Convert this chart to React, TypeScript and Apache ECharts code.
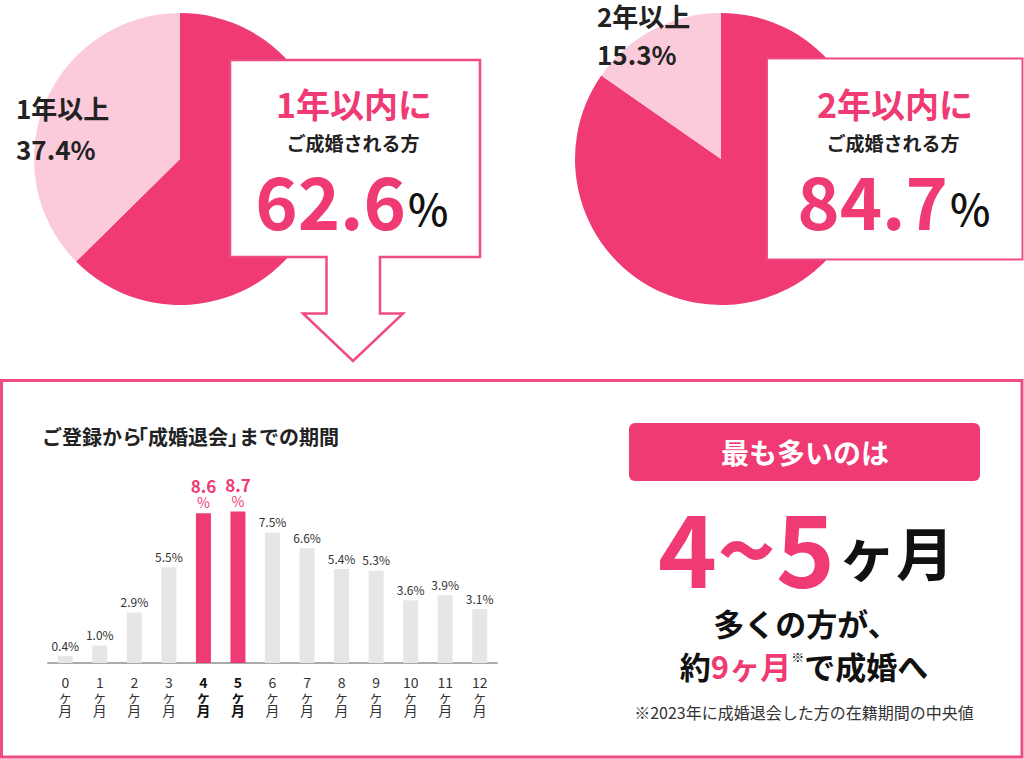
import React, { useEffect, useRef } from 'react';
import * as echarts from 'echarts';

// ---- data ----
const PIE1_LABELS = ['1年以内', '1年以上'];
const PIE1_VALUES = [62.6, 37.4];
const PIE2_LABELS = ['2年以内', '2年以上'];
const PIE2_VALUES = [84.7, 15.3];
const MONTHS = ['0', '1', '2', '3', '4', '5', '6', '7', '8', '9', '10', '11', '12'];
const SHARES = [0.4, 1.0, 2.9, 5.5, 8.6, 8.7, 7.5, 6.6, 5.4, 5.3, 3.6, 3.9, 3.1];
const HIGHLIGHT = [4, 5];
const MEDIAN_MONTHS = '9';

const PINK = '#EF3A74';
const PINK_LINE = '#EF4C81';
const LIGHT_PINK = '#FBCADB';
const GRAY_BAR = '#E6E6E6';
const DARK = '#222222';
const FONT = "'Noto Sans CJK JP', 'Noto Sans', sans-serif";

function txt(text: string, x: number, y: number, size: number, opts: any = {}) {
  return {
    type: 'text',
    x,
    y,
    z: 20,
    silent: true,
    style: {
      text,
      fontSize: size,
      fontFamily: FONT,
      fontWeight: opts.weight || 'bold',
      fill: opts.fill || DARK,
      align: opts.align || 'center',
      verticalAlign: 'middle',
      ...(opts.rich ? { rich: opts.rich } : {}),
    },
  };
}

export default function App() {
  const ref = useRef<HTMLDivElement>(null);
  useEffect(() => {
    if (!ref.current) return;
    const chart = echarts.init(ref.current, undefined, { renderer: 'svg' });

    const pieSeries = (center: number[], labels: string[], values: number[]) => ({
      type: 'pie',
      center,
      radius: 146,
      startAngle: 90,
      clockwise: true,
      silent: true,
      label: { show: false },
      labelLine: { show: false },
      emphasis: { disabled: true },
      itemStyle: { borderWidth: 0 },
      data: labels.map((n, i) => ({
        name: n,
        value: values[i],
        itemStyle: { color: i === 0 ? PINK : LIGHT_PINK },
      })),
    });

    const graphic: any[] = [
      // arrow box 1
      {
        type: 'polygon',
        z: 10,
        silent: true,
        shape: {
          points: [
            [230, 60], [480, 60], [480, 257], [380, 257], [380, 313.5], [403, 313.5],
            [353, 361], [303, 313.5], [326.5, 313.5], [326.5, 257], [230, 257],
          ],
        },
        style: { fill: '#fff', stroke: PINK_LINE, lineWidth: 2.5 },
      },
      // box 2
      {
        type: 'rect',
        z: 10,
        silent: true,
        shape: { x: 767, y: 58.5, width: 255.5, height: 201 },
        style: { fill: '#fff', stroke: PINK_LINE, lineWidth: 2 },
      },
      // pie labels
      txt(PIE1_LABELS[1], 16, 107, 26, { align: 'left' }),
      txt(PIE1_VALUES[1].toFixed(1) + '%', 16, 148, 26, { align: 'left' }),
      txt(PIE2_LABELS[1], 597, 15, 26, { align: 'left' }),
      txt(PIE2_VALUES[1].toFixed(1) + '%', 597, 53, 26, { align: 'left' }),
      // box 1 text
      txt(PIE1_LABELS[0] + 'に', 354, 103, 34, { fill: PINK }),
      txt('ご成婚される方', 353, 142, 19),
      txt(PIE1_VALUES[0].toFixed(1), 406, 198, 72, { fill: PINK, align: 'right' }),
      txt('%', 408, 207, 43, { align: 'left', weight: 500, fill: '#111' }),
      // box 2 text
      txt(PIE2_LABELS[0] + 'に', 895, 103, 34, { fill: PINK }),
      txt('ご成婚される方', 893, 142, 19),
      txt(PIE2_VALUES[0].toFixed(1), 948, 198, 72, { fill: PINK, align: 'right' }),
      txt('%', 950, 207, 43, { align: 'left', weight: 500, fill: '#111' }),
      // bottom frame
      {
        type: 'rect',
        z: 5,
        silent: true,
        shape: { x: 1.5, y: 380.5, width: 1020.5, height: 376.5 },
        style: { fill: 'none', stroke: PINK_LINE, lineWidth: 3 },
      },
      txt('ご登録から', 42, 436, 20, { align: 'left' }),
      txt('「成婚退会」', 128, 436, 20, { align: 'left' }),
      txt('までの期間', 239, 436, 20, { align: 'left' }),
      // right badge
      {
        type: 'rect',
        z: 10,
        silent: true,
        shape: { x: 629, y: 423, width: 351, height: 58, r: 6 },
        style: { fill: PINK },
      },
      txt('最も多いのは', 805, 452, 28, { fill: '#fff' }),
      txt(`${MONTHS[HIGHLIGHT[0]]}~${MONTHS[HIGHLIGHT[1]]}`, 835, 544, 100, { fill: PINK, align: 'right' }),
      txt('ヶ月', 838, 551, 58, { align: 'left', fill: '#111' }),
      txt('多くの方が、', 806, 622, 31, { fill: '#111' }),
      txt(`{k|約}{p|${MEDIAN_MONTHS}ヶ月}{s|※}{k|で成婚へ}`, 804, 665, 31, {
        rich: {
          k: { fontSize: 31, fontWeight: 'bold', fill: '#111', fontFamily: FONT },
          p: { fontSize: 31, fontWeight: 'bold', fill: PINK, fontFamily: FONT },
          s: { fontSize: 13, fill: '#111', fontFamily: FONT, verticalAlign: 'top' },
        },
      }),
      txt('※2023年に成婚退会した方の在籍期間の中央値', 804, 712, 16, { weight: 'normal', fill: '#333' }),
    ];

    chart.setOption({
      animation: false,
      grid: { left: 48, width: 449, top: 489, height: 174 },
      xAxis: {
        type: 'category',
        data: MONTHS.map((m, i) =>
          HIGHLIGHT.includes(i) ? { value: m, textStyle: { fontWeight: 'bold', color: '#111' } } : m
        ),
        axisLine: { lineStyle: { color: '#AAAAAA', width: 2 } },
        axisTick: { show: false },
        axisLabel: {
          interval: 0,
          margin: 12,
          fontSize: 14,
          lineHeight: 14,
          color: '#333',
          fontFamily: FONT,
          formatter: (v: string) => `${v}\nヶ\n月`,
        },
      },
      yAxis: { type: 'value', min: 0, max: 10, show: false },
      series: [
        pieSeries([180, 159], PIE1_LABELS, PIE1_VALUES),
        pieSeries([721, 159], PIE2_LABELS, PIE2_VALUES),
        {
          type: 'bar',
          barWidth: 15,
          silent: true,
          data: SHARES.map((v, i) =>
            HIGHLIGHT.includes(i)
              ? { value: v, itemStyle: { color: PINK }, label: { distance: 3 } }
              : { value: v, itemStyle: { color: GRAY_BAR } }
          ),
          label: {
            show: true,
            position: 'top',
            distance: 5,
            fontSize: 12,
            lineHeight: 12,
            color: '#333',
            fontFamily: FONT,
            formatter: (p: any) =>
              HIGHLIGHT.includes(p.dataIndex)
                ? `{a|${p.value.toFixed(1)}}\n{b|%}`
                : `${p.value.toFixed(1)}%`,
            rich: {
              a: { fontSize: 17, fontWeight: 'bold', color: PINK, lineHeight: 17, fontFamily: FONT },
              b: { fontSize: 14, color: PINK, lineHeight: 16, fontFamily: FONT },
            },
          },
        },
      ],
      graphic,
    });
    return () => chart.dispose();
  }, []);
  return (
    <div
      ref={ref}
      style={{ position: 'fixed', left: 0, top: 0, width: 1024, height: 759, background: '#fff' }}
    />
  );
}
